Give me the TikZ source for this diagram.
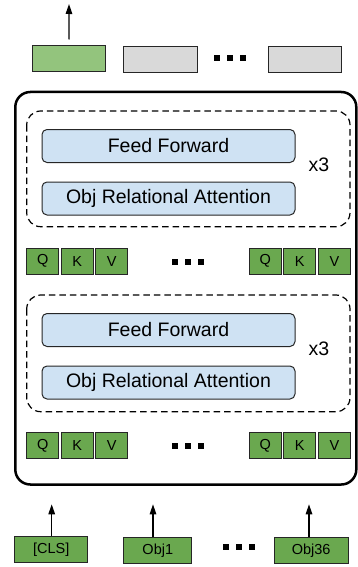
\documentclass[tikz,border=0pt]{standalone}
\usepackage{fontspec}
\setmainfont{Liberation Sans}
\usetikzlibrary{arrows.meta}

\definecolor{tokgreen}{HTML}{6AA84F}
\definecolor{outgreen}{HTML}{93C47D}
\definecolor{tokgray}{HTML}{D9D9D9}
\definecolor{layerblue}{HTML}{CFE2F3}
\definecolor{edge}{HTML}{262626}

\tikzset{
  box/.style={draw=edge, line width=1pt, inner sep=0pt, anchor=center},
  token/.style={box, minimum height=26pt},
  qkv/.style={box, fill=tokgreen, minimum width=32pt, minimum height=26pt,
              font=\fontsize{14.5}{16}\selectfont},
  intok/.style={token, fill=tokgreen, font=\fontsize{14.5}{16}\selectfont},
  layer/.style={box, fill=layerblue, rounded corners=5pt,
                minimum width=253pt, minimum height=33pt,
                font=\fontsize{19.5}{22}\selectfont},
  repeatlbl/.style={inner sep=0pt, font=\fontsize{19.5}{22}\selectfont},
  group/.style={draw=black, dashed, dash pattern=on 6.5pt off 4pt,
                line width=1.2pt, rounded corners=14pt},
  encoder/.style={draw=black, line width=2.5pt, rounded corners=15pt},
  flow/.style={draw=black, line width=1.3pt,
               -{Triangle[width=6.5pt,length=10pt]}},
  dotsq/.style={fill=black}
}

\newcommand{\threedots}[2]{%
  \foreach \dx in {-13,0,13}{%
    \fill[dotsq] ({#1+\dx-3},{#2-3}) rectangle ({#1+\dx+3},{#2+3});}}

\begin{document}
\begin{tikzpicture}[x=1pt,y=-1pt]
\useasboundingbox (0,0) rectangle (358,567);

% output tokens
\node[token, fill=outgreen, minimum width=73.7pt] (out1) at (68.9,59) {};
\node[token, fill=tokgray, minimum width=74pt] (out2) at (160.3,59.3) {};
\node[token, fill=tokgray, minimum width=73.7pt] (out3) at (305,59.3) {};
\threedots{230}{58}
\coordinate (outtip) at (69,4);
\draw[flow] ([yshift=6pt]out1.north) -- (outtip);

% encoder frame
\draw[encoder] (15.3,92) rectangle (356.3,484.5);

% upper block
\draw[group] (26.7,111) rectangle (350,226.7);
\node[layer] (ff1) at (168.5,146) {Feed Forward};
\node[layer] (ora1) at (168.5,198.5) {Obj Relational Attention};
\node[repeatlbl] (rep1) at (319,165) {x3};

\node[qkv] (q1a) at (42.8,261.3) {Q};
\node[qkv] (k1a) at (77.2,261.3) {K};
\node[qkv] (v1a) at (111.8,261.3) {V};
\threedots{188}{261.5}
\node[qkv] (q1b) at (265.2,261.3) {Q};
\node[qkv] (k1b) at (299.7,261.3) {K};
\node[qkv] (v1b) at (334.5,261.3) {V};

% lower block
\draw[group] (26.7,295) rectangle (350,411.7);
\node[layer] (ff2) at (168.5,330) {Feed Forward};
\node[layer] (ora2) at (168.5,382.5) {Obj Relational Attention};
\node[repeatlbl] (rep2) at (319,348.5) {x3};

\node[qkv] (q2a) at (42.8,445.5) {Q};
\node[qkv] (k2a) at (77.2,445.5) {K};
\node[qkv] (v2a) at (111.8,445.5) {V};
\threedots{188}{445.7}
\node[qkv] (q2b) at (265.2,445.5) {Q};
\node[qkv] (k2b) at (299.7,445.5) {K};
\node[qkv] (v2b) at (334.5,445.5) {V};

% input tokens
\node[intok, minimum width=73pt] (cls) at (51.2,549.7) {[CLS]};
\node[intok, minimum width=67.7pt] (obj1) at (157.8,550.3) {Obj1};
\node[intok, minimum width=74pt] (obj36) at (311.2,550.3) {Obj36};
\threedots{239}{547}

\coordinate (tipcls) at (51.7,504.3);
\coordinate (tipobj1) at (153,504.3);
\coordinate (tipobj36) at (309,504.3);
\draw[flow] (cls.north -| tipcls) -- (tipcls);
\draw[flow] (obj1.north -| tipobj1) -- (tipobj1);
\draw[flow] (obj36.north -| tipobj36) -- (tipobj36);
\end{tikzpicture}
\end{document}
